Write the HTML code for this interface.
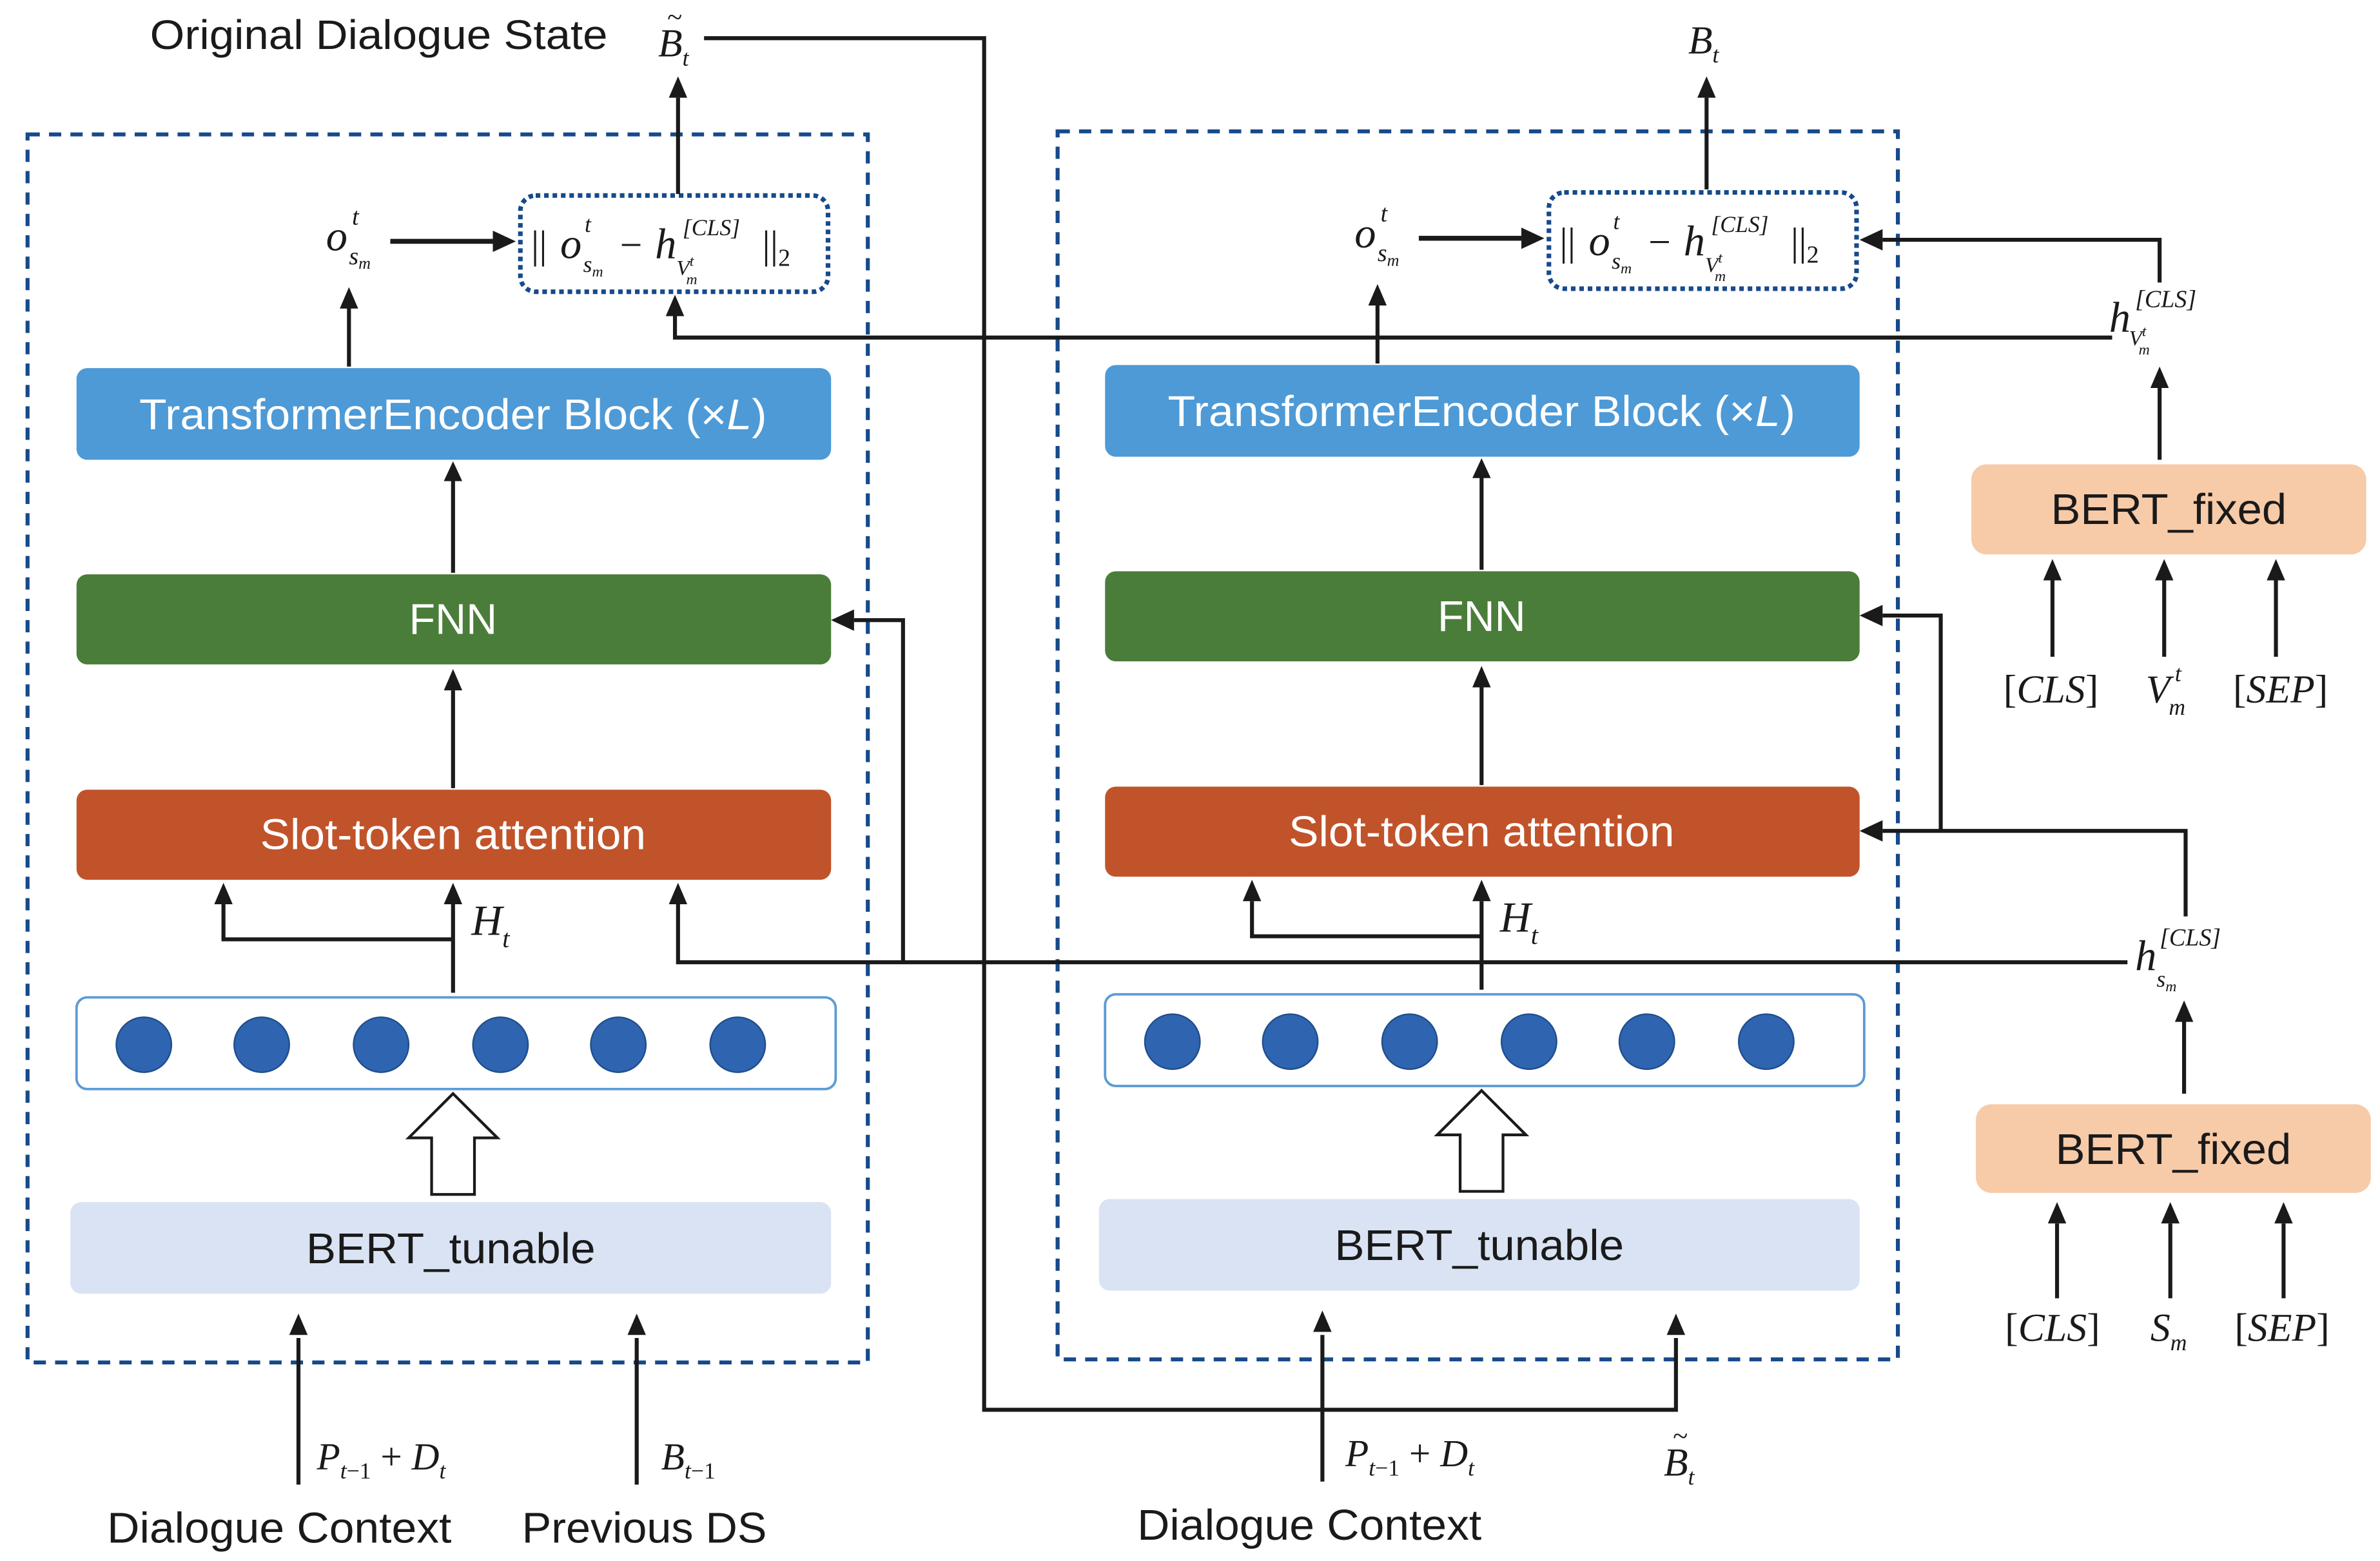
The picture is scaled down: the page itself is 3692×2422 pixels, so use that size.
<!DOCTYPE html>
<html><head><meta charset="utf-8"><style>
html,body{margin:0;padding:0;background:#fff;}
svg{display:block;}
.s{font-family:"Liberation Sans",sans-serif;fill:#1a1a1a;}
.m{font-family:"Liberation Serif",serif;font-style:italic;fill:#1a1a1a;}
.r{font-family:"Liberation Serif",serif;fill:#1a1a1a;}
.ln{stroke:#1a1a1a;stroke-width:2.6;fill:none;}
</style></head><body>
<svg width="3692" height="2422" viewBox="0 0 1555 1022" preserveAspectRatio="none" xmlns="http://www.w3.org/2000/svg">
<rect width="1555" height="1022" fill="#fff"/>

<rect x="18" y="88" width="549" height="804" fill="none" stroke="#164a8a" stroke-width="2.6" stroke-dasharray="8,6"/>
<rect x="691" y="86" width="549" height="804" fill="none" stroke="#164a8a" stroke-width="2.6" stroke-dasharray="8,6"/>

<g id="L">
<rect x="50" y="241" width="493" height="60" rx="7" fill="#4d9ad6"/>
<text x="91" y="281" font-size="28" class="s" style="fill:#fff" textLength="410" lengthAdjust="spacingAndGlyphs">TransformerEncoder Block (×<tspan font-style="italic">L</tspan>)</text>
<rect x="50" y="376" width="493" height="59" rx="7" fill="#4a7d39"/>
<text x="296" y="415" text-anchor="middle" font-size="28" class="s" style="fill:#fff">FNN</text>
<rect x="50" y="517" width="493" height="59" rx="7" fill="#c1532a"/>
<text x="170" y="556" font-size="28" class="s" style="fill:#fff" textLength="252" lengthAdjust="spacingAndGlyphs">Slot-token attention</text>
<rect x="50" y="653" width="496" height="60" rx="7" fill="#fff" stroke="#5b9bd5" stroke-width="1.6"/>
<circle cx="94" cy="684" r="18" fill="#2f64b1" stroke="#1f4e8c"/>
<circle cx="171" cy="684" r="18" fill="#2f64b1" stroke="#1f4e8c"/>
<circle cx="249" cy="684" r="18" fill="#2f64b1" stroke="#1f4e8c"/>
<circle cx="327" cy="684" r="18" fill="#2f64b1" stroke="#1f4e8c"/>
<circle cx="404" cy="684" r="18" fill="#2f64b1" stroke="#1f4e8c"/>
<circle cx="482" cy="684" r="18" fill="#2f64b1" stroke="#1f4e8c"/>
<path d="M296,716 L325,745 L310,745 L310,782 L282,782 L282,745 L267,745 Z" fill="#fff" stroke="#1a1a1a" stroke-width="1.8"/>
<rect x="46" y="787" width="497" height="60" rx="7" fill="#dae3f3"/>
<text x="200" y="827" font-size="28" class="s" textLength="189" lengthAdjust="spacingAndGlyphs">BERT_tunable</text>
<path class="ln" d="M296,375 V312"/><path d="M296,302 l-6,13 h12 z" fill="#1a1a1a"/>
<path class="ln" d="M296,516 V452"/><path d="M296,438 l-6,14 h12 z" fill="#1a1a1a"/>
<path class="ln" d="M296,650 V592"/><path d="M296,578 l-6,14 h12 z" fill="#1a1a1a"/>
<path class="ln" d="M296,615 H146 V592"/><path d="M146,578 l-6,14 h12 z" fill="#1a1a1a"/>
<text x="308" y="612" class="m" font-size="28">H<tspan font-size="17" dy="8">t</tspan></text>
<path class="ln" d="M228,240 V200"/><path d="M228,188 l-6,14 h12 z" fill="#1a1a1a"/>
<text x="213" y="164" class="m" font-size="28">o</text>
<text x="230" y="147" class="m" font-size="16">t</text>
<text x="228" y="173" class="m" font-size="16">s<tspan font-size="11" dy="3">m</tspan></text>
<path class="ln" d="M255,158 H322" style="stroke-width:3.2"/><path d="M337,158 l-15,-7 v14 z" fill="#1a1a1a"/>
<rect x="340" y="128" width="201" height="63" rx="10" fill="none" stroke="#164a8a" stroke-width="3" stroke-dasharray="3,2.5"/>
<text x="347" y="169" class="r" font-size="26">||</text>
<text x="366" y="169" class="m" font-size="28">o</text>
<text x="382" y="152" class="m" font-size="15">t</text>
<text x="381" y="178" class="m" font-size="15">s<tspan font-size="10" dy="3">m</tspan></text>
<text x="405" y="169" class="r" font-size="26">−</text>
<text x="428" y="169" class="m" font-size="28">h</text>
<text x="446" y="154" class="m" font-size="15">[CLS]</text>
<text x="442" y="180" class="m" font-size="14">V<tspan font-size="10" dy="-6">t</tspan><tspan font-size="10" dx="-5" dy="12">m</tspan></text>
<text x="498" y="169" class="r" font-size="26">||<tspan font-size="16" dy="5">2</tspan></text>
</g>
<use href="#L" transform="translate(672,-2)"/>

<path class="ln" d="M443,127 V64"/><path d="M443,50 l-6,14 h12 z" fill="#1a1a1a"/>
<path class="ln" d="M1115,124 V64"/><path d="M1115,50 l-6,14 h12 z" fill="#1a1a1a"/>
<text x="98" y="32" class="s" font-size="27" textLength="299" lengthAdjust="spacingAndGlyphs">Original Dialogue State</text>
<text x="430" y="37" class="m" font-size="26">B<tspan font-size="15" dy="6">t</tspan></text>
<text x="436" y="17" class="r" font-size="18">~</text>
<text x="1103" y="35" class="m" font-size="26">B<tspan font-size="15" dy="6">t</tspan></text>

<path class="ln" d="M460,25 H643 V923 H1095 V876"/><path d="M1095,860 l-6,14 h12 z" fill="#1a1a1a"/>
<text x="1087" y="966" class="m" font-size="26">B<tspan font-size="15" dy="6">t</tspan></text>
<text x="1093" y="946" class="r" font-size="18">~</text>

<path class="ln" d="M195,972 V876"/><path d="M195,860 l-6,14 h12 z" fill="#1a1a1a"/>
<path class="ln" d="M416,972 V876"/><path d="M416,860 l-6,14 h12 z" fill="#1a1a1a"/>
<path class="ln" d="M864,970 V874"/><path d="M864,858 l-6,14 h12 z" fill="#1a1a1a"/>
<text x="207" y="962" class="m" font-size="25">P<tspan font-size="15" dy="6">t</tspan><tspan font-size="15" class="r" style="font-style:normal">−1</tspan><tspan dy="-6" class="r" style="font-style:normal"> + </tspan>D<tspan font-size="15" dy="6">t</tspan></text>
<text x="432" y="962" class="m" font-size="25">B<tspan font-size="15" dy="6">t</tspan><tspan font-size="15" class="r" style="font-style:normal">−1</tspan></text>
<text x="879" y="960" class="m" font-size="25">P<tspan font-size="15" dy="6">t</tspan><tspan font-size="15" class="r" style="font-style:normal">−1</tspan><tspan dy="-6" class="r" style="font-style:normal"> + </tspan>D<tspan font-size="15" dy="6">t</tspan></text>
<text x="70" y="1010" class="s" font-size="28" textLength="225" lengthAdjust="spacingAndGlyphs">Dialogue Context</text>
<text x="341" y="1010" class="s" font-size="28" textLength="160" lengthAdjust="spacingAndGlyphs">Previous DS</text>
<text x="743" y="1008" class="s" font-size="28" textLength="225" lengthAdjust="spacingAndGlyphs">Dialogue Context</text>

<rect x="1288" y="304" width="258" height="59" rx="10" fill="#f7caa8"/>
<text x="1340" y="343" font-size="28" class="s" textLength="154" lengthAdjust="spacingAndGlyphs">BERT_fixed</text>
<path class="ln" d="M1341,430 V380"/><path d="M1341,366 l-6,14 h12 z" fill="#1a1a1a"/>
<path class="ln" d="M1414,430 V380"/><path d="M1414,366 l-6,14 h12 z" fill="#1a1a1a"/>
<path class="ln" d="M1487,430 V380"/><path d="M1487,366 l-6,14 h12 z" fill="#1a1a1a"/>
<text x="1340" y="460" text-anchor="middle" class="m" font-size="26"><tspan class="r" style="font-style:normal">[</tspan>CLS<tspan class="r" style="font-style:normal">]</tspan></text>
<text x="1402" y="460" class="m" font-size="26">V</text>
<text x="1421" y="446" class="m" font-size="15">t</text>
<text x="1417" y="468" class="m" font-size="15">m</text>
<text x="1490" y="460" text-anchor="middle" class="m" font-size="26"><tspan class="r" style="font-style:normal">[</tspan>SEP<tspan class="r" style="font-style:normal">]</tspan></text>
<path class="ln" d="M1411,301 V254"/><path d="M1411,240 l-6,14 h12 z" fill="#1a1a1a"/>
<text x="1378" y="217" class="m" font-size="28">h</text>
<text x="1395" y="201" class="m" font-size="16">[CLS]</text>
<text x="1391" y="226" class="m" font-size="14">V<tspan font-size="10" dy="-6">t</tspan><tspan font-size="10" dx="-5" dy="12">m</tspan></text>
<path class="ln" d="M1411,185 V157 H1230"/><path d="M1215,157 l15,-7 v14 z" fill="#1a1a1a"/>
<path class="ln" d="M1380,221 H441 V207"/><path d="M441,193 l-6,14 h12 z" fill="#1a1a1a"/>

<rect x="1291" y="723" width="258" height="58" rx="10" fill="#f7caa8"/>
<text x="1343" y="762" font-size="28" class="s" textLength="154" lengthAdjust="spacingAndGlyphs">BERT_fixed</text>
<path class="ln" d="M1344,850 V801"/><path d="M1344,787 l-6,14 h12 z" fill="#1a1a1a"/>
<path class="ln" d="M1418,850 V801"/><path d="M1418,787 l-6,14 h12 z" fill="#1a1a1a"/>
<path class="ln" d="M1492,850 V801"/><path d="M1492,787 l-6,14 h12 z" fill="#1a1a1a"/>
<text x="1341" y="878" text-anchor="middle" class="m" font-size="26"><tspan class="r" style="font-style:normal">[</tspan>CLS<tspan class="r" style="font-style:normal">]</tspan></text>
<text x="1405" y="878" class="m" font-size="26">S<tspan font-size="15" dy="6">m</tspan></text>
<text x="1491" y="878" text-anchor="middle" class="m" font-size="26"><tspan class="r" style="font-style:normal">[</tspan>SEP<tspan class="r" style="font-style:normal">]</tspan></text>
<path class="ln" d="M1427,716 V669"/><path d="M1427,655 l-6,14 h12 z" fill="#1a1a1a"/>
<text x="1395" y="635" class="m" font-size="28">h</text>
<text x="1411" y="619" class="m" font-size="16">[CLS]</text>
<text x="1409" y="646" class="m" font-size="15">s<tspan font-size="10" dy="3">m</tspan></text>
<path class="ln" d="M1428,600 V544 H1230"/><path d="M1215,544 l15,-7 v14 z" fill="#1a1a1a"/>
<path class="ln" d="M1268,544 V403 H1230"/><path d="M1215,403 l15,-7 v14 z" fill="#1a1a1a"/>
<path class="ln" d="M1390,630 H443 V592"/><path d="M443,578 l-6,14 h12 z" fill="#1a1a1a"/>
<path class="ln" d="M590,630 V406 H558"/><path d="M543,406 l15,-7 v14 z" fill="#1a1a1a"/>
</svg>
</body></html>
